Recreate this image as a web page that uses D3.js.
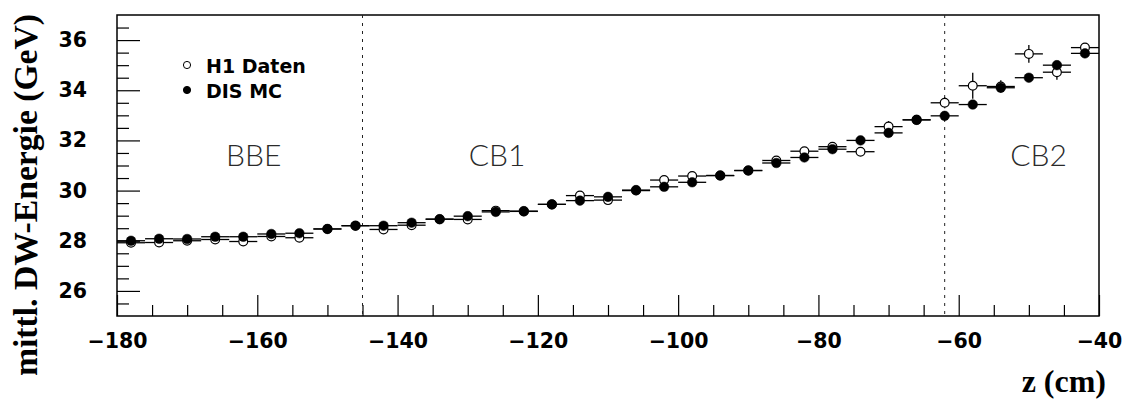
<!DOCTYPE html>
<html>
<head>
<meta charset="utf-8">
<script src="https://cdn.jsdelivr.net/npm/d3@7"></script>
<style>
  html, body { margin: 0; padding: 0; background: #fff; }
  svg { display: block; }
</style>
</head>
<body>
<div id="chart"></div>
<script>
// mean DW energy vs z, H1 data vs DIS MC
const zBins = [-178, -174, -170, -166, -162, -158, -154, -150, -146, -142, -138, -134, -130, -126, -122, -118, -114, -110,
  -106, -102, -98, -94, -90, -86, -82, -78, -74, -70, -66, -62, -58, -54, -50, -46, -42];
const binHalfWidth = 2;

const h1Values = [27.92, 27.93, 28.0, 28.05, 27.97, 28.17, 28.12, 28.47, 28.6, 28.45, 28.62, 28.86, 28.85, 29.2, 29.17, 29.45, 29.8, 29.62,
  30.0, 30.42, 30.58, 30.6, 30.8, 31.2, 31.57, 31.75, 31.55, 32.55, 32.82, 33.5, 34.18, 34.15, 35.45, 34.72, 35.7];
const h1Errors = [0.1, 0.1, 0.1, 0.1, 0.1, 0.1, 0.1, 0.1, 0.1, 0.1, 0.1, 0.1, 0.1, 0.1, 0.1, 0.1, 0.1, 0.1,
  0.1, 0.1, 0.1, 0.1, 0.1, 0.1, 0.1, 0.12, 0.12, 0.22, 0.12, 0.22, 0.52, 0.25, 0.35, 0.3, 0.17];

const mcValues = [28.0, 28.08, 28.07, 28.16, 28.16, 28.27, 28.3, 28.47, 28.6, 28.6, 28.72, 28.86, 28.98, 29.15, 29.18, 29.45, 29.6, 29.75,
  30.02, 30.15, 30.33, 30.6, 30.8, 31.1, 31.32, 31.65, 32.0, 32.3, 32.82, 32.98, 33.43, 34.1, 34.5, 35.0, 35.47];
const mcErrors = [0.05, 0.05, 0.05, 0.05, 0.05, 0.05, 0.05, 0.05, 0.05, 0.05, 0.05, 0.05, 0.05, 0.05, 0.05, 0.05, 0.05, 0.05,
  0.05, 0.05, 0.05, 0.05, 0.05, 0.05, 0.05, 0.05, 0.05, 0.05, 0.05, 0.05, 0.05, 0.1, 0.05, 0.05, 0.05];

const xMajorTicks = [-180, -160, -140, -120, -100, -80, -60, -40];
const xMinorTicks = [-175, -170, -165, -155, -150, -145, -135, -130, -125, -115, -110, -105, -95, -90, -85, -75, -70, -65, -55, -50, -45];
const yMajorTicks = [26, 28, 30, 32, 34, 36];
const yMinorTicks = [25.5, 26.5, 27, 27.5, 28.5, 29, 29.5, 30.5, 31, 31.5, 32.5, 33, 33.5, 34.5, 35, 35.5, 36.5];

const regionBounds = [-145, -62];
const regionNames = ['BBE', 'CB1', 'CB2'];
const regionLabelZ = [-160.5, -125.8, -48.6];
const regionLabelE = 30.98;

const legendNames = ['H1 Daten', 'DIS MC'];

const W = 1125, H = 403;
const margin = { left: 117, right: 26, top: 15, bottom: 87 };

const svg = d3.select('#chart').append('svg').attr('width', W).attr('height', H);
svg.append('rect').attr('width', W).attr('height', H).attr('fill', '#fff');

const x = d3.scaleLinear().domain([-180, -40]).range([margin.left, W - margin.right]);
const y = d3.scaleLinear().domain([25, 37]).range([H - margin.bottom, margin.top]);

const tickFont = '"DejaVu Sans", Verdana, sans-serif';
const serif = '"Liberation Serif", "Times New Roman", serif';

// axes (ticks point inward, like ROOT)
const fmt = d3.format('d');
svg.append('g').attr('transform', `translate(0,${y(25)})`)
  .call(d3.axisBottom(x).tickValues(xMajorTicks).tickSize(-21).tickPadding(17).tickFormat(fmt));
svg.append('g').attr('transform', `translate(0,${y(25)})`)
  .call(d3.axisBottom(x).tickValues(xMinorTicks).tickSize(-11).tickFormat(''));
svg.append('g').attr('transform', `translate(${x(-180)},0)`)
  .call(d3.axisLeft(y).tickValues(yMajorTicks).tickSize(-23).tickPadding(30).tickFormat(fmt));
svg.append('g').attr('transform', `translate(${x(-180)},0)`)
  .call(d3.axisLeft(y).tickValues(yMinorTicks).tickSize(-12).tickFormat(''));

svg.selectAll('.domain').remove();
svg.selectAll('.tick line').attr('stroke', '#000').attr('stroke-width', 1.2);
svg.selectAll('.tick text').attr('fill', '#000')
  .style('font-family', tickFont).style('font-weight', 'bold').style('font-size', '20.5px');

// frame
svg.append('rect')
  .attr('x', x(-180)).attr('y', y(37))
  .attr('width', x(-40) - x(-180)).attr('height', y(25) - y(37))
  .attr('fill', 'none').attr('stroke', '#000').attr('stroke-width', 1.5);

// region separators
svg.selectAll('line.region').data(regionBounds).join('line')
  .attr('class', 'region')
  .attr('x1', d => x(d)).attr('x2', d => x(d))
  .attr('y1', y(37)).attr('y2', y(25))
  .attr('stroke', '#222').attr('stroke-width', 1).attr('stroke-dasharray', '3,5');

svg.selectAll('text.region').data(regionNames).join('text')
  .attr('class', 'region')
  .attr('x', (d, i) => x(regionLabelZ[i])).attr('y', y(regionLabelE))
  .attr('text-anchor', 'middle')
  .style('font-family', 'Lato, "Open Sans", sans-serif').style('font-weight', 300).style('font-size', '30px')
  .attr('fill', '#2a2a2a')
  .text(d => d);

// data points
function drawSeries(values, errors, filled) {
  const g = svg.append('g');
  const pts = zBins.map((z, i) => ({ z, v: values[i], e: errors[i] }));
  g.selectAll('line.hbar').data(pts).join('line')
    .attr('x1', d => x(d.z - binHalfWidth)).attr('x2', d => x(d.z + binHalfWidth))
    .attr('y1', d => y(d.v)).attr('y2', d => y(d.v))
    .attr('stroke', '#000').attr('stroke-width', 1.3);
  g.selectAll('line.vbar').data(pts).join('line')
    .attr('x1', d => x(d.z)).attr('x2', d => x(d.z))
    .attr('y1', d => y(d.v - d.e)).attr('y2', d => y(d.v + d.e))
    .attr('stroke', '#000').attr('stroke-width', 1.3);
  g.selectAll('circle').data(pts).join('circle')
    .attr('cx', d => x(d.z)).attr('cy', d => y(d.v))
    .attr('r', filled ? 4.8 : 4.4)
    .attr('fill', filled ? '#000' : '#fff')
    .attr('stroke', '#000').attr('stroke-width', filled ? 0.5 : 1.2);
}
drawSeries(h1Values, h1Errors, false);
drawSeries(mcValues, mcErrors, true);

// legend
const legend = svg.append('g').attr('transform', 'translate(187,65)');
legendNames.forEach((name, i) => {
  legend.append('circle').attr('cx', 0).attr('cy', i * 25).attr('r', 3.6)
    .attr('fill', i === 0 ? '#fff' : '#000').attr('stroke', '#000').attr('stroke-width', 1);
  legend.append('text').attr('x', 19).attr('y', i * 25 + 7.5)
    .style('font-family', tickFont).style('font-weight', 'bold').style('font-size', '19px')
    .text(name);
});

// axis titles
const yTitle = svg.append('text')
  .attr('transform', 'translate(37,195) rotate(-90)')
  .attr('text-anchor', 'middle')
  .style('font-family', serif).style('font-weight', 'bold').style('font-size', '30px')
  .text('mittl. DW-Energie (GeV)');
// fit the title to the span it has in the original
const len = yTitle.node().getComputedTextLength();
if (len > 0) yTitle.style('font-size', (30 * 362 / len).toFixed(2) + 'px');

svg.append('text')
  .attr('x', 1106).attr('y', 392)
  .attr('text-anchor', 'end')
  .style('font-family', serif).style('font-weight', 'bold').style('font-size', '32px')
  .text('z (cm)');
</script>
</body>
</html>
